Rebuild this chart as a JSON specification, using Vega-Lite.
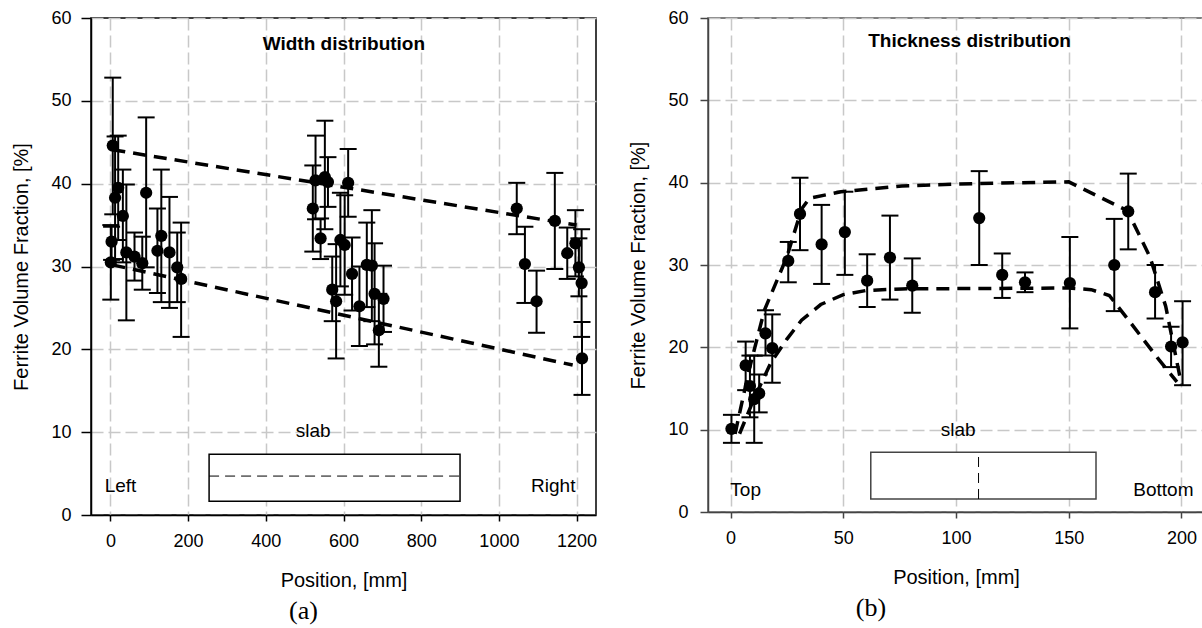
{
  "$schema": "https://vega.github.io/schema/vega-lite/v6.json",
  "background": "white",
  "padding": {"left": 11, "top": 8, "right": 0, "bottom": 0},
  "config": {
    "font": "Liberation Sans",
    "axis": {
      "labelFont": "Liberation Sans",
      "titleFont": "Liberation Sans",
      "labelFontSize": 18,
      "titleFontSize": 20,
      "titleFontWeight": "normal",
      "labelColor": "black",
      "titleColor": "black",
      "domainColor": "black",
      "tickColor": "black",
      "domainWidth": 1.5,
      "tickWidth": 1.5,
      "gridColor": "#c8c8c8",
      "gridWidth": 1.5,
      "gridDash": [12, 5]
    },
    "view": {"stroke": "black", "strokeWidth": 1.5},
    "concat": {"spacing": 30}
  },
  "datasets": {
    "w_pts": [
      {"x": 6, "y": 44.6, "lo": 36.3, "hi": 52.8},
      {"x": 20, "y": 39.5, "lo": 33.2, "hi": 45.8},
      {"x": 12, "y": 38.3, "lo": 30.9, "hi": 45.7},
      {"x": 32, "y": 36.1, "lo": 30.5, "hi": 41.7},
      {"x": 92, "y": 38.9, "lo": 29.9, "hi": 48.0},
      {"x": 3, "y": 33.0, "lo": 30.8, "hi": 34.8},
      {"x": 1, "y": 30.5, "lo": 26.0, "hi": 35.0},
      {"x": 41, "y": 31.7, "lo": 23.5, "hi": 39.9},
      {"x": 62, "y": 31.2, "lo": 28.3, "hi": 34.1},
      {"x": 82, "y": 30.4, "lo": 27.2, "hi": 33.6},
      {"x": 131, "y": 33.7, "lo": 25.7, "hi": 41.7},
      {"x": 121, "y": 31.9, "lo": 26.8, "hi": 37.0},
      {"x": 152, "y": 31.7, "lo": 25.0, "hi": 38.4},
      {"x": 172, "y": 29.9, "lo": 25.7, "hi": 34.1},
      {"x": 182, "y": 28.5, "lo": 21.5, "hi": 35.3},
      {"x": 528, "y": 40.4, "lo": 35.7, "hi": 45.8},
      {"x": 552, "y": 40.8, "lo": 34.5, "hi": 47.6},
      {"x": 560, "y": 40.2, "lo": 37.2, "hi": 43.2},
      {"x": 612, "y": 40.1, "lo": 36.0, "hi": 44.2},
      {"x": 521, "y": 37.0, "lo": 31.8, "hi": 42.2},
      {"x": 541, "y": 33.4, "lo": 30.9, "hi": 35.8},
      {"x": 592, "y": 33.2, "lo": 27.6, "hi": 38.9},
      {"x": 603, "y": 32.6, "lo": 26.6, "hi": 38.6},
      {"x": 622, "y": 29.1, "lo": 24.7, "hi": 33.5},
      {"x": 660, "y": 30.2, "lo": 25.1, "hi": 35.3},
      {"x": 673, "y": 30.1, "lo": 23.4, "hi": 36.8},
      {"x": 571, "y": 27.2, "lo": 23.4, "hi": 31.2},
      {"x": 581, "y": 25.8, "lo": 18.9, "hi": 32.7},
      {"x": 641, "y": 25.2, "lo": 20.4, "hi": 30.0},
      {"x": 680, "y": 26.7, "lo": 20.6, "hi": 32.8},
      {"x": 703, "y": 26.1, "lo": 22.1, "hi": 30.1},
      {"x": 691, "y": 22.3, "lo": 17.9, "hi": 26.7},
      {"x": 1046, "y": 37.0, "lo": 33.9, "hi": 40.1},
      {"x": 1067, "y": 30.3, "lo": 25.6, "hi": 34.8},
      {"x": 1097, "y": 25.8, "lo": 22.0, "hi": 29.5},
      {"x": 1144, "y": 35.5, "lo": 29.7, "hi": 41.3},
      {"x": 1176, "y": 31.6, "lo": 28.5, "hi": 34.7},
      {"x": 1197, "y": 32.8, "lo": 28.8, "hi": 36.8},
      {"x": 1206, "y": 29.9, "lo": 26.4, "hi": 33.4},
      {"x": 1213, "y": 28.0, "lo": 21.5, "hi": 34.5},
      {"x": 1214, "y": 18.9, "lo": 14.5, "hi": 23.3}
    ],
    "w_lines": [
      {"series": "upper", "x": 5, "y": 44.1},
      {"series": "upper", "x": 1200, "y": 35.0},
      {"series": "lower", "x": 5, "y": 30.2},
      {"series": "lower", "x": 1190, "y": 18.1}
    ],
    "w_slab": [{"x": 254, "x2": 900, "y": 1.65, "y2": 7.33}],
    "w_slab_mid": [{"x": 254, "x2": 900, "y": 4.7}],
    "w_title": [{"x": 601, "y": 56.9, "label": "Width distribution"}],
    "w_text": [
      {"x": 522, "y": 10.1, "label": "slab"},
      {"x": 26, "y": 3.5, "label": "Left"},
      {"x": 1140, "y": 3.5, "label": "Right"}
    ],
    "t_pts": [
      {"x": 0.4, "y": 10.1, "lo": 8.4, "hi": 11.8},
      {"x": 6.7, "y": 17.8, "lo": 14.8, "hi": 20.7},
      {"x": 8.6, "y": 15.3, "lo": 11.5, "hi": 19.0},
      {"x": 10.5, "y": 13.7, "lo": 8.4, "hi": 19.0},
      {"x": 12.7, "y": 14.4, "lo": 12.1, "hi": 16.7},
      {"x": 15.5, "y": 21.7, "lo": 19.0, "hi": 24.5},
      {"x": 18.5, "y": 19.9, "lo": 15.7, "hi": 24.0},
      {"x": 25.6, "y": 30.5, "lo": 27.9, "hi": 32.8},
      {"x": 30.8, "y": 36.2, "lo": 31.8, "hi": 40.6},
      {"x": 40.4, "y": 32.5, "lo": 27.7, "hi": 37.3},
      {"x": 50.7, "y": 34.0, "lo": 28.8, "hi": 38.9},
      {"x": 60.6, "y": 28.1, "lo": 24.9, "hi": 31.3},
      {"x": 70.7, "y": 30.9, "lo": 25.8, "hi": 36.0},
      {"x": 80.6, "y": 27.5, "lo": 24.2, "hi": 30.8},
      {"x": 110.3, "y": 35.7, "lo": 30.0, "hi": 41.4},
      {"x": 120.5, "y": 28.8, "lo": 26.0, "hi": 31.4},
      {"x": 130.6, "y": 27.9, "lo": 26.7, "hi": 29.1},
      {"x": 150.5, "y": 27.8, "lo": 22.3, "hi": 33.4},
      {"x": 170.2, "y": 30.0, "lo": 24.4, "hi": 35.6},
      {"x": 176.4, "y": 36.5, "lo": 31.9, "hi": 41.1},
      {"x": 188.3, "y": 26.7, "lo": 23.5, "hi": 30.0},
      {"x": 195.4, "y": 20.1, "lo": 17.6, "hi": 22.5},
      {"x": 200.5, "y": 20.6, "lo": 15.4, "hi": 25.6}
    ],
    "t_lines": [
      {"series": "upper", "x": 2, "y": 9.5},
      {"series": "upper", "x": 8, "y": 17},
      {"series": "upper", "x": 15, "y": 24.5},
      {"series": "upper", "x": 25, "y": 31},
      {"series": "upper", "x": 31.5, "y": 36.8},
      {"series": "upper", "x": 35, "y": 38.1},
      {"series": "upper", "x": 49, "y": 38.9},
      {"series": "upper", "x": 76, "y": 39.6},
      {"series": "upper", "x": 110, "y": 39.9},
      {"series": "upper", "x": 150, "y": 40.1},
      {"series": "upper", "x": 176, "y": 36.6},
      {"series": "upper", "x": 186, "y": 31},
      {"series": "upper", "x": 193, "y": 25},
      {"series": "upper", "x": 200, "y": 15.5},
      {"series": "lower", "x": 4, "y": 9.5},
      {"series": "lower", "x": 10, "y": 13.5},
      {"series": "lower", "x": 18, "y": 18.2},
      {"series": "lower", "x": 25, "y": 21},
      {"series": "lower", "x": 31.5, "y": 23.3},
      {"series": "lower", "x": 40, "y": 25.2},
      {"series": "lower", "x": 50, "y": 26.4},
      {"series": "lower", "x": 60, "y": 26.9},
      {"series": "lower", "x": 76, "y": 27.1},
      {"series": "lower", "x": 150, "y": 27.2},
      {"series": "lower", "x": 160, "y": 27.0},
      {"series": "lower", "x": 168, "y": 26.3},
      {"series": "lower", "x": 176, "y": 23.5},
      {"series": "lower", "x": 190, "y": 18.5},
      {"series": "lower", "x": 198, "y": 15.8}
    ],
    "t_slab": [{"x": 62.2, "x2": 162.1, "y": 1.58, "y2": 7.25}],
    "t_slab_mid": [{"x": 110, "y": 1.58, "y2": 7.25}],
    "t_title": [{"x": 106, "y": 57.2, "label": "Thickness distribution"}],
    "t_text": [
      {"x": 101, "y": 10.0, "label": "slab"},
      {"x": 6.7, "y": 2.7, "label": "Top"},
      {"x": 192, "y": 2.7, "label": "Bottom"}
    ]
  },
  "hconcat": [
    {
      "width": 505,
      "height": 497,
      "title": {"text": "(a)", "orient": "bottom", "font": "Liberation Serif", "fontSize": 26, "fontWeight": "normal", "color": "black", "frame": "group", "anchor": "middle", "dx": -40, "offset": 8},
      "encoding": {
        "x": {"field": "x", "type": "quantitative", "scale": {"domain": [-50, 1250], "nice": false, "zero": false},
              "axis": {"title": "Position, [mm]", "values": [0, 200, 400, 600, 800, 1000, 1200], "format": "d", "tickSize": 6, "labelPadding": 11, "titlePadding": 20, "grid": true}},
        "y": {"field": "y", "type": "quantitative", "scale": {"domain": [0, 60], "nice": false, "zero": false},
              "axis": {"title": "Ferrite Volume Fraction, [%]", "values": [0, 10, 20, 30, 40, 50, 60], "tickSize": 10, "labelPadding": 10, "titlePadding": 19, "grid": true}}
      },
      "layer": [
        {"data": {"name": "w_slab"}, "mark": {"type": "rect", "fill": "white", "stroke": "black", "strokeWidth": 1.5},
         "encoding": {"x2": {"field": "x2"}, "y2": {"field": "y2"}}},
        {"data": {"name": "w_slab_mid"}, "mark": {"type": "rule", "stroke": "black", "strokeWidth": 1, "strokeDash": [10, 6]},
         "encoding": {"x2": {"field": "x2"}}},
        {"data": {"name": "w_pts"}, "mark": {"type": "rule", "stroke": "black", "strokeWidth": 2},
         "encoding": {"y": {"field": "lo", "type": "quantitative", "scale": {"domain": [0, 60], "nice": false, "zero": false},
              "axis": {"title": "Ferrite Volume Fraction, [%]", "values": [0, 10, 20, 30, 40, 50, 60], "tickSize": 10, "labelPadding": 10, "titlePadding": 19, "grid": true}}, "y2": {"field": "hi"}}},
        {"data": {"name": "w_pts"}, "mark": {"type": "tick", "orient": "horizontal", "color": "black", "size": 17, "thickness": 2, "opacity": 1},
         "encoding": {"y": {"field": "lo", "type": "quantitative", "scale": {"domain": [0, 60], "nice": false, "zero": false},
              "axis": {"title": "Ferrite Volume Fraction, [%]", "values": [0, 10, 20, 30, 40, 50, 60], "tickSize": 10, "labelPadding": 10, "titlePadding": 19, "grid": true}}}},
        {"data": {"name": "w_pts"}, "mark": {"type": "tick", "orient": "horizontal", "color": "black", "size": 17, "thickness": 2, "opacity": 1},
         "encoding": {"y": {"field": "hi", "type": "quantitative", "scale": {"domain": [0, 60], "nice": false, "zero": false},
              "axis": {"title": "Ferrite Volume Fraction, [%]", "values": [0, 10, 20, 30, 40, 50, 60], "tickSize": 10, "labelPadding": 10, "titlePadding": 19, "grid": true}}}},
        {"data": {"name": "w_lines"}, "mark": {"type": "line", "stroke": "black", "strokeWidth": 3.5, "strokeDash": [13, 8]},
         "encoding": {"detail": {"field": "series"}}},
        {"data": {"name": "w_pts"}, "mark": {"type": "circle", "color": "black", "size": 150, "opacity": 1}, "encoding": {}},
        {"data": {"name": "w_title"}, "mark": {"type": "text", "font": "Liberation Sans", "fontSize": 19, "fontWeight": "bold", "color": "black"},
         "encoding": {"text": {"field": "label"}}},
        {"data": {"name": "w_text"}, "mark": {"type": "text", "font": "Liberation Sans", "fontSize": 19, "color": "black"},
         "encoding": {"text": {"field": "label"}}}
      ]
    },
    {
      "width": 496,
      "height": 494,
      "view": {"stroke": "#555555", "strokeWidth": 1.5},
      "title": {"text": "(b)", "orient": "bottom", "font": "Liberation Serif", "fontSize": 26, "fontWeight": "normal", "color": "black", "frame": "group", "anchor": "middle", "dx": -85, "offset": 8},
      "encoding": {
        "x": {"field": "x", "type": "quantitative", "scale": {"domain": [-10, 210], "nice": false, "zero": false},
              "axis": {"title": "Position, [mm]", "values": [0, 50, 100, 150, 200], "tickSize": 6, "labelPadding": 11, "titlePadding": 20, "grid": true, "domainColor": "#444444", "tickColor": "#444444"}},
        "y": {"field": "y", "type": "quantitative", "scale": {"domain": [0, 60], "nice": false, "zero": false},
              "axis": {"title": "Ferrite Volume Fraction, [%]", "values": [0, 10, 20, 30, 40, 50, 60], "tickSize": 8, "labelPadding": 12, "titlePadding": 19, "grid": true, "domainColor": "#444444", "tickColor": "#444444"}}
      },
      "layer": [
        {"data": {"name": "t_slab"}, "mark": {"type": "rect", "fill": "white", "stroke": "#444444", "strokeWidth": 1.5},
         "encoding": {"x2": {"field": "x2"}, "y2": {"field": "y2"}}},
        {"data": {"name": "t_slab_mid"}, "mark": {"type": "rule", "stroke": "black", "strokeWidth": 1, "strokeDash": [10, 6]},
         "encoding": {"y2": {"field": "y2"}}},
        {"data": {"name": "t_pts"}, "mark": {"type": "rule", "stroke": "black", "strokeWidth": 2},
         "encoding": {"y": {"field": "lo", "type": "quantitative", "scale": {"domain": [0, 60], "nice": false, "zero": false},
              "axis": {"title": "Ferrite Volume Fraction, [%]", "values": [0, 10, 20, 30, 40, 50, 60], "tickSize": 8, "labelPadding": 12, "titlePadding": 19, "grid": true, "domainColor": "#444444", "tickColor": "#444444"}}, "y2": {"field": "hi"}}},
        {"data": {"name": "t_pts"}, "mark": {"type": "tick", "orient": "horizontal", "color": "black", "size": 17, "thickness": 2, "opacity": 1},
         "encoding": {"y": {"field": "lo", "type": "quantitative", "scale": {"domain": [0, 60], "nice": false, "zero": false},
              "axis": {"title": "Ferrite Volume Fraction, [%]", "values": [0, 10, 20, 30, 40, 50, 60], "tickSize": 8, "labelPadding": 12, "titlePadding": 19, "grid": true, "domainColor": "#444444", "tickColor": "#444444"}}}},
        {"data": {"name": "t_pts"}, "mark": {"type": "tick", "orient": "horizontal", "color": "black", "size": 17, "thickness": 2, "opacity": 1},
         "encoding": {"y": {"field": "hi", "type": "quantitative", "scale": {"domain": [0, 60], "nice": false, "zero": false},
              "axis": {"title": "Ferrite Volume Fraction, [%]", "values": [0, 10, 20, 30, 40, 50, 60], "tickSize": 8, "labelPadding": 12, "titlePadding": 19, "grid": true, "domainColor": "#444444", "tickColor": "#444444"}}}},
        {"data": {"name": "t_lines"}, "mark": {"type": "line", "stroke": "black", "strokeWidth": 3.5, "strokeDash": [13, 8]},
         "encoding": {"detail": {"field": "series"}}},
        {"data": {"name": "t_pts"}, "mark": {"type": "circle", "color": "black", "size": 150, "opacity": 1}, "encoding": {}},
        {"data": {"name": "t_title"}, "mark": {"type": "text", "font": "Liberation Sans", "fontSize": 19, "fontWeight": "bold", "color": "black"},
         "encoding": {"text": {"field": "label"}}},
        {"data": {"name": "t_text"}, "mark": {"type": "text", "font": "Liberation Sans", "fontSize": 19, "color": "black"},
         "encoding": {"text": {"field": "label"}}}
      ]
    }
  ]
}
